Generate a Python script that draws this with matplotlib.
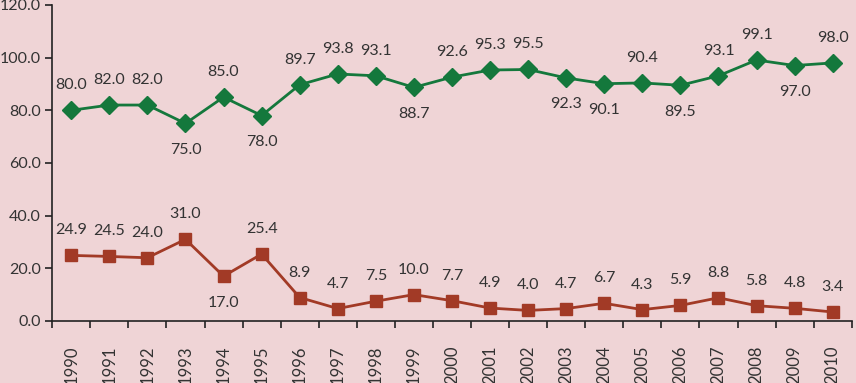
import matplotlib.pyplot as plt

years = [str(y) for y in range(1990, 2011)]
upper = [80.0, 82.0, 82.0, 75.0, 85.0, 78.0, 89.7, 93.8, 93.1, 88.7, 92.6,
         95.3, 95.5, 92.3, 90.1, 90.4, 89.5, 93.1, 99.1, 97.0, 98.0]
lower = [24.9, 24.5, 24.0, 31.0, 17.0, 25.4, 8.9, 4.7, 7.5, 10.0, 7.7,
         4.9, 4.0, 4.7, 6.7, 4.3, 5.9, 8.8, 5.8, 4.8, 3.4]
# which labels sit under the marker
upper_below = {"1993", "1995", "1999", "2003", "2004", "2006", "2009"}
lower_below = {"1994"}

bg = "#efd4d6"
green = "#14783c"
brown = "#a23a26"
txt = "#333333"

plt.rcParams['font.family'] = ['Lato', 'DejaVu Sans']

fig = plt.figure(figsize=(8.56, 3.83), dpi=100, facecolor=bg)
ax = fig.add_axes([0.061, 0.162, 0.934, 0.825], facecolor=bg)

x = list(range(len(years)))
ax.plot(x, upper, color=green, lw=2, marker="D", ms=9, zorder=3)
ax.plot(x, lower, color=brown, lw=2, marker="s", ms=9, zorder=3)

for xi, yr, v in zip(x, years, upper):
    off = -19 if yr in upper_below else 18
    ax.annotate(f"{v:.1f}", (xi, v), xytext=(0, off), textcoords="offset points",
                ha="center", va="center", fontsize=11.5, color=txt)
for xi, yr, v in zip(x, years, lower):
    off = -19 if yr in lower_below else 18
    ax.annotate(f"{v:.1f}", (xi, v), xytext=(0, off), textcoords="offset points",
                ha="center", va="center", fontsize=11.5, color=txt)

ax.set_xlim(-0.5, len(years) - 0.5)
ax.set_ylim(0, 120)
ax.set_yticks(range(0, 121, 20))
ax.set_yticklabels([f"{v:.1f}" for v in range(0, 121, 20)], fontsize=11.5, color=txt)

# excel-style ticks between categories, labels centred
ax.set_xticks([i - 0.5 for i in range(len(years) + 1)])
ax.set_xticklabels([])
ax.set_xticks(x, minor=True)
ax.set_xticklabels(years, minor=True, rotation=90, fontsize=12, color=txt, va="top")
ax.tick_params(axis="x", which="minor", length=0, pad=18)
ax.tick_params(axis="x", which="major", length=5, width=1.2, direction="out", color="#222222")
ax.tick_params(axis="y", length=5, width=1.2, direction="out", color="#222222", pad=3)

for s in ["top", "right"]:
    ax.spines[s].set_visible(False)
for s in ["left", "bottom"]:
    ax.spines[s].set_linewidth(1.2)
    ax.spines[s].set_color("#222222")

fig.savefig("out.png", dpi=100, facecolor=bg)
